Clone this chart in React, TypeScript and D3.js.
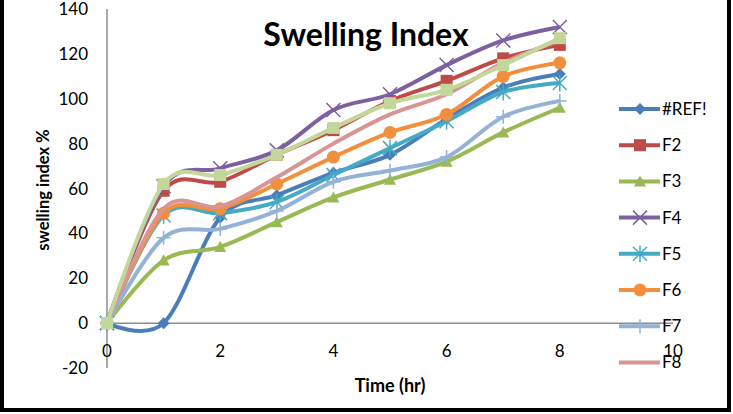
import React, { useEffect, useRef } from "react";
import * as d3 from "d3";

const hours = [0, 1, 2, 3, 4, 5, 6, 7, 8];
const seriesNames = ["#REF!", "F2", "F3", "F4", "F5", "F6", "F7", "F8", "F9"];
const ref = [0, 0, 47, 57, 67, 75, 91, 105, 111];
const f2 = [0, 59, 63, 75, 86, 99, 108, 118, 124];
const f3 = [0, 28, 34, 45, 56, 64, 72, 85, 96];
const f4 = [0, 61, 69, 77, 95, 102, 115, 126, 132];
const f5 = [0, 48, 49, 54, 66, 78, 90, 103, 107];
const f6 = [0, 49, 51, 62, 74, 85, 93, 110, 116];
const f7 = [0, 38, 42, 50, 63, 68, 74, 92, 99];
const f8 = [0, 51, 52, 65, 80, 93, 102, 116, 126];
const f9 = [0, 62, 66, 75, 87, 98, 104, 115, 127];
const yTicks = [-20, 0, 20, 40, 60, 80, 100, 120, 140];
const xTicks = [0, 2, 4, 6, 8, 10];

const colors = ["#4A7EBB", "#BE4B48", "#98B954", "#7D60A0", "#46AAC5", "#F28F3F", "#94B2D6", "#D99593", "#C4D79B"];
const markers = ["diamond", "square", "triangle", "x", "star", "circle", "plus", "none", "square"];

const App = () => {
  const svgRef = useRef<SVGSVGElement>(null);

  useEffect(() => {
    const svg = d3.select(svgRef.current);
    svg.selectAll("*").remove();
    const font = "Lato, 'Open Sans', sans-serif";

    const x = d3.scaleLinear().domain([0, 10]).range([107, 673]);
    const y = d3.scaleLinear().domain([-20, 140]).range([368, 9]);

    const data = [ref, f2, f3, f4, f5, f6, f7, f8, f9];

    // frame
    svg.append("path").attr("d", "M2,0 V410 H729 V0").attr("fill", "none").attr("stroke", "#000").attr("stroke-width", 4);

    // axes
    svg.append("line").attr("x1", x(0)).attr("x2", x(0)).attr("y1", y(140)).attr("y2", y(-20)).attr("stroke", "#8c8c8c").attr("stroke-width", 1.5);
    svg.append("line").attr("x1", x(0)).attr("x2", x(10)).attr("y1", y(0)).attr("y2", y(0)).attr("stroke", "#8c8c8c").attr("stroke-width", 1.5);

    svg.append("g").selectAll("text").data(yTicks).join("text")
      .attr("x", 88).attr("y", (d) => y(d) + 6).attr("text-anchor", "end")
      .style("font-family", font).style("font-size", "17px").text((d) => d);

    svg.append("g").selectAll("text").data(xTicks).join("text")
      .attr("x", (d) => x(d)).attr("y", 357).attr("text-anchor", "middle")
      .style("font-family", font).style("font-size", "17px").text((d) => d);

    const symbol = (type: string, s: number) => {
      switch (type) {
        case "diamond": return `M0,${-s}L${s},0L0,${s}L${-s},0Z`;
        case "square": return `M${-s},${-s}H${s}V${s}H${-s}Z`;
        case "triangle": return `M0,${-s}L${s},${s * 0.85}H${-s}Z`;
        case "x": return `M${-s},${-s}L${s},${s}M${s},${-s}L${-s},${s}`;
        case "star": return `M${-s},${-s}L${s},${s}M${s},${-s}L${-s},${s}M0,${-s * 1.2}V${s * 1.2}`;
        case "plus": return `M${-s},0H${s}M0,${-s}V${s}`;
        default: return "";
      }
    };

    const line = d3.line<number>()
      .x((d, i) => x(hours[i]))
      .y((d) => y(d))
      .curve(d3.curveCardinal.tension(0));

    const drawMarker = (g: any, type: string, color: string, cx: number, cy: number) => {
      if (type === "none") return;
      if (type === "circle") {
        g.append("circle").attr("cx", cx).attr("cy", cy).attr("r", 6.5).attr("fill", color);
        return;
      }
      const stroked = type === "x" || type === "star" || type === "plus";
      g.append("path")
        .attr("d", symbol(type, stroked ? 7 : 6))
        .attr("transform", `translate(${cx},${cy})`)
        .attr("fill", stroked ? "none" : color)
        .attr("stroke", color)
        .attr("stroke-width", stroked ? 1.5 : 0);
    };

    data.forEach((vals, si) => {
      const g = svg.append("g");
      g.append("path").attr("d", line(vals)).attr("fill", "none")
        .attr("stroke", colors[si]).attr("stroke-width", 4).attr("stroke-linejoin", "round");
      vals.forEach((v, i) => drawMarker(g, markers[si], colors[si], x(hours[i]), y(v)));
    });

    // legend (only first eight entries fit)
    const legend = svg.append("g");
    seriesNames.slice(0, 8).forEach((name, i) => {
      const ly = 109 + i * 36.2;
      legend.append("line").attr("x1", 619).attr("x2", 660).attr("y1", ly).attr("y2", ly)
        .attr("stroke", colors[i]).attr("stroke-width", 4);
      drawMarker(legend, markers[i], colors[i], 640, ly);
      legend.append("text").attr("x", 662).attr("y", ly + 6)
        .style("font-family", font).style("font-size", "17px").text(name);
    });

    svg.append("text").attr("x", 366).attr("y", 46).attr("text-anchor", "middle")
      .style("font-family", font).style("font-weight", "bold").style("font-size", "32px").text("Swelling Index");

    svg.append("text").attr("transform", "translate(49,190) rotate(-90)").attr("text-anchor", "middle")
      .style("font-family", font).style("font-weight", "bold").style("font-size", "16.5px").text("swelling index %");

    svg.append("text").attr("x", 390).attr("y", 392).attr("text-anchor", "middle")
      .style("font-family", font).style("font-weight", "bold").style("font-size", "18px").text("Time (hr)");
  }, []);

  return (
    <svg ref={svgRef} width={733} height={414} style={{ position: "absolute", left: 0, top: 0, background: "#fff" }} />
  );
};

export default App;
